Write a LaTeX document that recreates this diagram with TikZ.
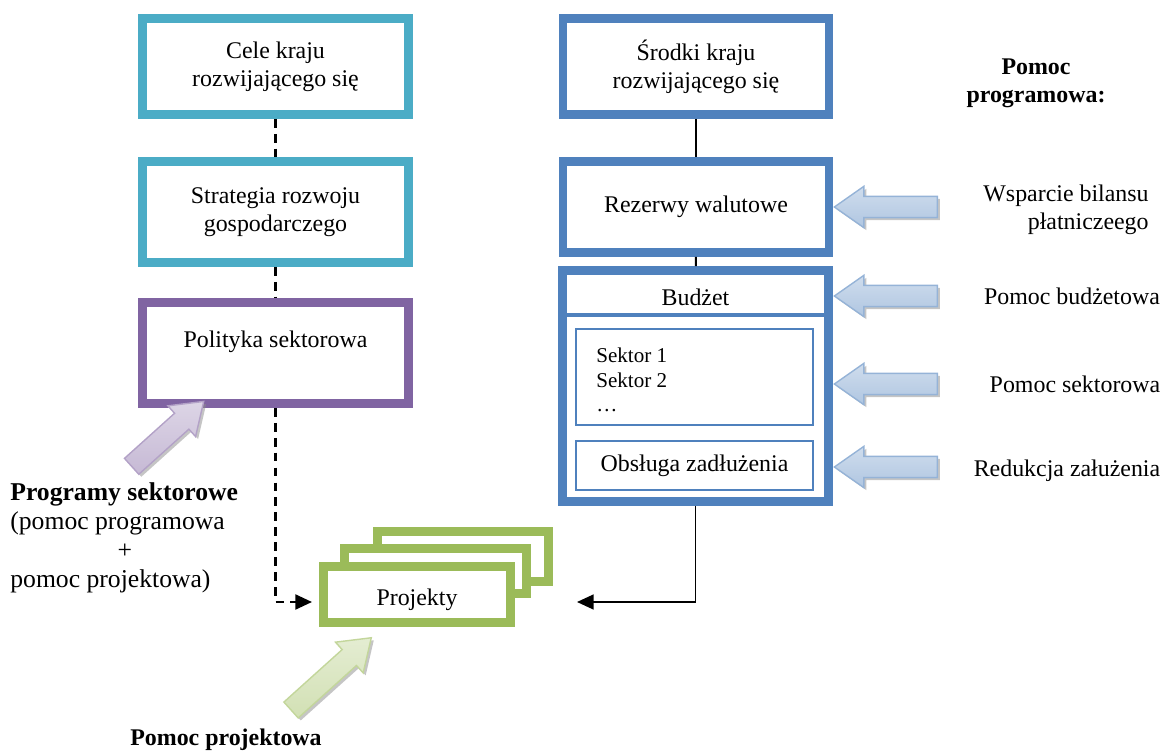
\documentclass[tikz,border=0pt]{standalone}
\usepackage{fontspec}
\setmainfont{Liberation Serif}
\usetikzlibrary{shapes.arrows,shadows,arrows.meta}

\definecolor{celecyan}{HTML}{4BACC6}
\definecolor{polpurple}{HTML}{8064A2}
\definecolor{srodblue}{HTML}{4F81BD}
\definecolor{projgreen}{HTML}{9BBB59}
\definecolor{arrblue}{HTML}{95B3D7}
\definecolor{arrpurple}{HTML}{B3A2C7}
\definecolor{arrgreen}{HTML}{C3D69B}

\tikzset{
	box/.style={draw, line width=5pt, fill=white, align=center, minimum width=5.32cm},
	inbox/.style={draw=srodblue, line width=1.2pt, minimum width=4.74cm},
	projbox/.style={draw=projgreen, line width=5pt, fill=white},
	przer/.style={line width=1.4pt, dash pattern=on 5pt off 3.5pt},
	ciag/.style={line width=1.1pt},
	grot/.style={-{Triangle[length=9.5pt,width=8.5pt]}},
	opis/.style={font=\fontsize{13.6}{15.8}\selectfont\bfseries},
	strz/.style={single arrow, draw=#1, line width=0.8pt, inner xsep=0pt, inner ysep=0.2cm,
		single arrow head extend=0.2cm, single arrow tip angle=70,
		top color=#1!45, middle color=#1!15, bottom color=#1!75,
		drop shadow={shadow xshift=0.5mm, shadow yshift=-0.5mm, fill=black!45, opacity=0.5}}
}

\begin{document}
\begin{tikzpicture}[x=0.02cm, y=-0.02cm, every node/.style={font=\fontsize{13.6}{15.8}\selectfont}]
	\useasboundingbox (0,0) rectangle (1164,753);

	% lewa kolumna
	\node[box, draw=celecyan, minimum height=1.92cm] (cele) at (275.5,66.5) {Cele kraju\\rozwijającego się};
	\node[box, draw=celecyan, minimum height=2.02cm] (strat) at (275.5,212) {Strategia rozwoju\\gospodarczego};
	\node[box, draw=polpurple, minimum height=2.02cm] (polit) at (275.5,353) {Polityka sektorowa\\\mbox{}};

	% prawa kolumna
	\node[box, draw=srodblue, minimum height=1.92cm] (srod) at (696,66.5) {Środki kraju\\rozwijającego się};
	\node[box, draw=srodblue, minimum height=1.82cm] (rez) at (696,207) {\raisebox{2pt}{Rezerwy walutowe}};
	\node[box, draw=srodblue, minimum height=4.62cm] (budz) at (695.5,386) {};
	\draw[srodblue, line width=2pt] (budz.west |- 0,315) -- (budz.east |- 0,315);
	\node (budlab) at (695.5,297) {Budżet};
	\node[inbox, minimum height=1.92cm] (sekt) at (694.5,377) {};
	\node[anchor=west, align=left, inner sep=0pt, font=\fontsize{12}{13.8}\selectfont] (sektlab) at (596,380) {Sektor 1\\Sektor 2\\…};
	\node[inbox, minimum height=0.98cm] (obsl) at (694.5,465.5) {Obsługa zadłużenia};

	% projekty
	\node[projbox, minimum width=3.42cm, minimum height=1.0cm] (proj3) at (463,556.5) {};
	\node[projbox, minimum width=3.64cm, minimum height=0.9cm] (proj2) at (435.5,571) {};
	\node[projbox, minimum width=3.74cm, minimum height=1.12cm] (proj) at (417,594.5) {\raisebox{-6.5pt}[0pt][0pt]{Projekty}};

	% polaczenia
	\coordinate (lwej) at (312,602);
	\coordinate (pwej) at (577,602);
	\draw[przer] (cele) -- (strat);
	\draw[przer] (strat) -- (polit);
	\draw[przer, grot] (polit) |- (lwej);
	\draw[ciag] (srod) -- (rez);
	\draw[ciag] (rez) -- (budz);
	\draw[ciag, grot] (budz) |- (pwej);

	% pomoc programowa
	\node[opis, align=center] (pprog) at (1036,83) {Pomoc\\programowa:};
	\foreach \y/\nazwa in {207/sb1, 296/sb2, 384/sb3, 467/sb4}
		\node[strz=arrblue, minimum height=2.06cm, shape border rotate=180] (\nazwa) at (893.5,\y) {};
	\node[align=right] (wsp) at (1066,210) {Wsparcie bilansu\\płatniczeego};
	\node (pbud) at (1072,296) {Pomoc budżetowa};
	\node (psek) at (1075,384) {Pomoc sektorowa};
	\node (red) at (1067,471) {Redukcja załużenia};

	% programy i projekty
	\node[strz=arrpurple, minimum height=1.94cm, rotate=42] (sf) at (162,439) {};
	\node[anchor=west, align=left, inner sep=0pt, font=\fontsize{14.6}{16.4}\selectfont] (progsek) at (10,538)
		{\textbf{Programy sektorowe}\\(pomoc programowa\\\hspace*{61pt}+\\pomoc projektowa)};
	\node[strz=arrgreen, minimum height=2.16cm, rotate=42] (sz) at (325.5,679) {};
	\node[opis] (pproj) at (226,740) {Pomoc projektowa};
\end{tikzpicture}
\end{document}
